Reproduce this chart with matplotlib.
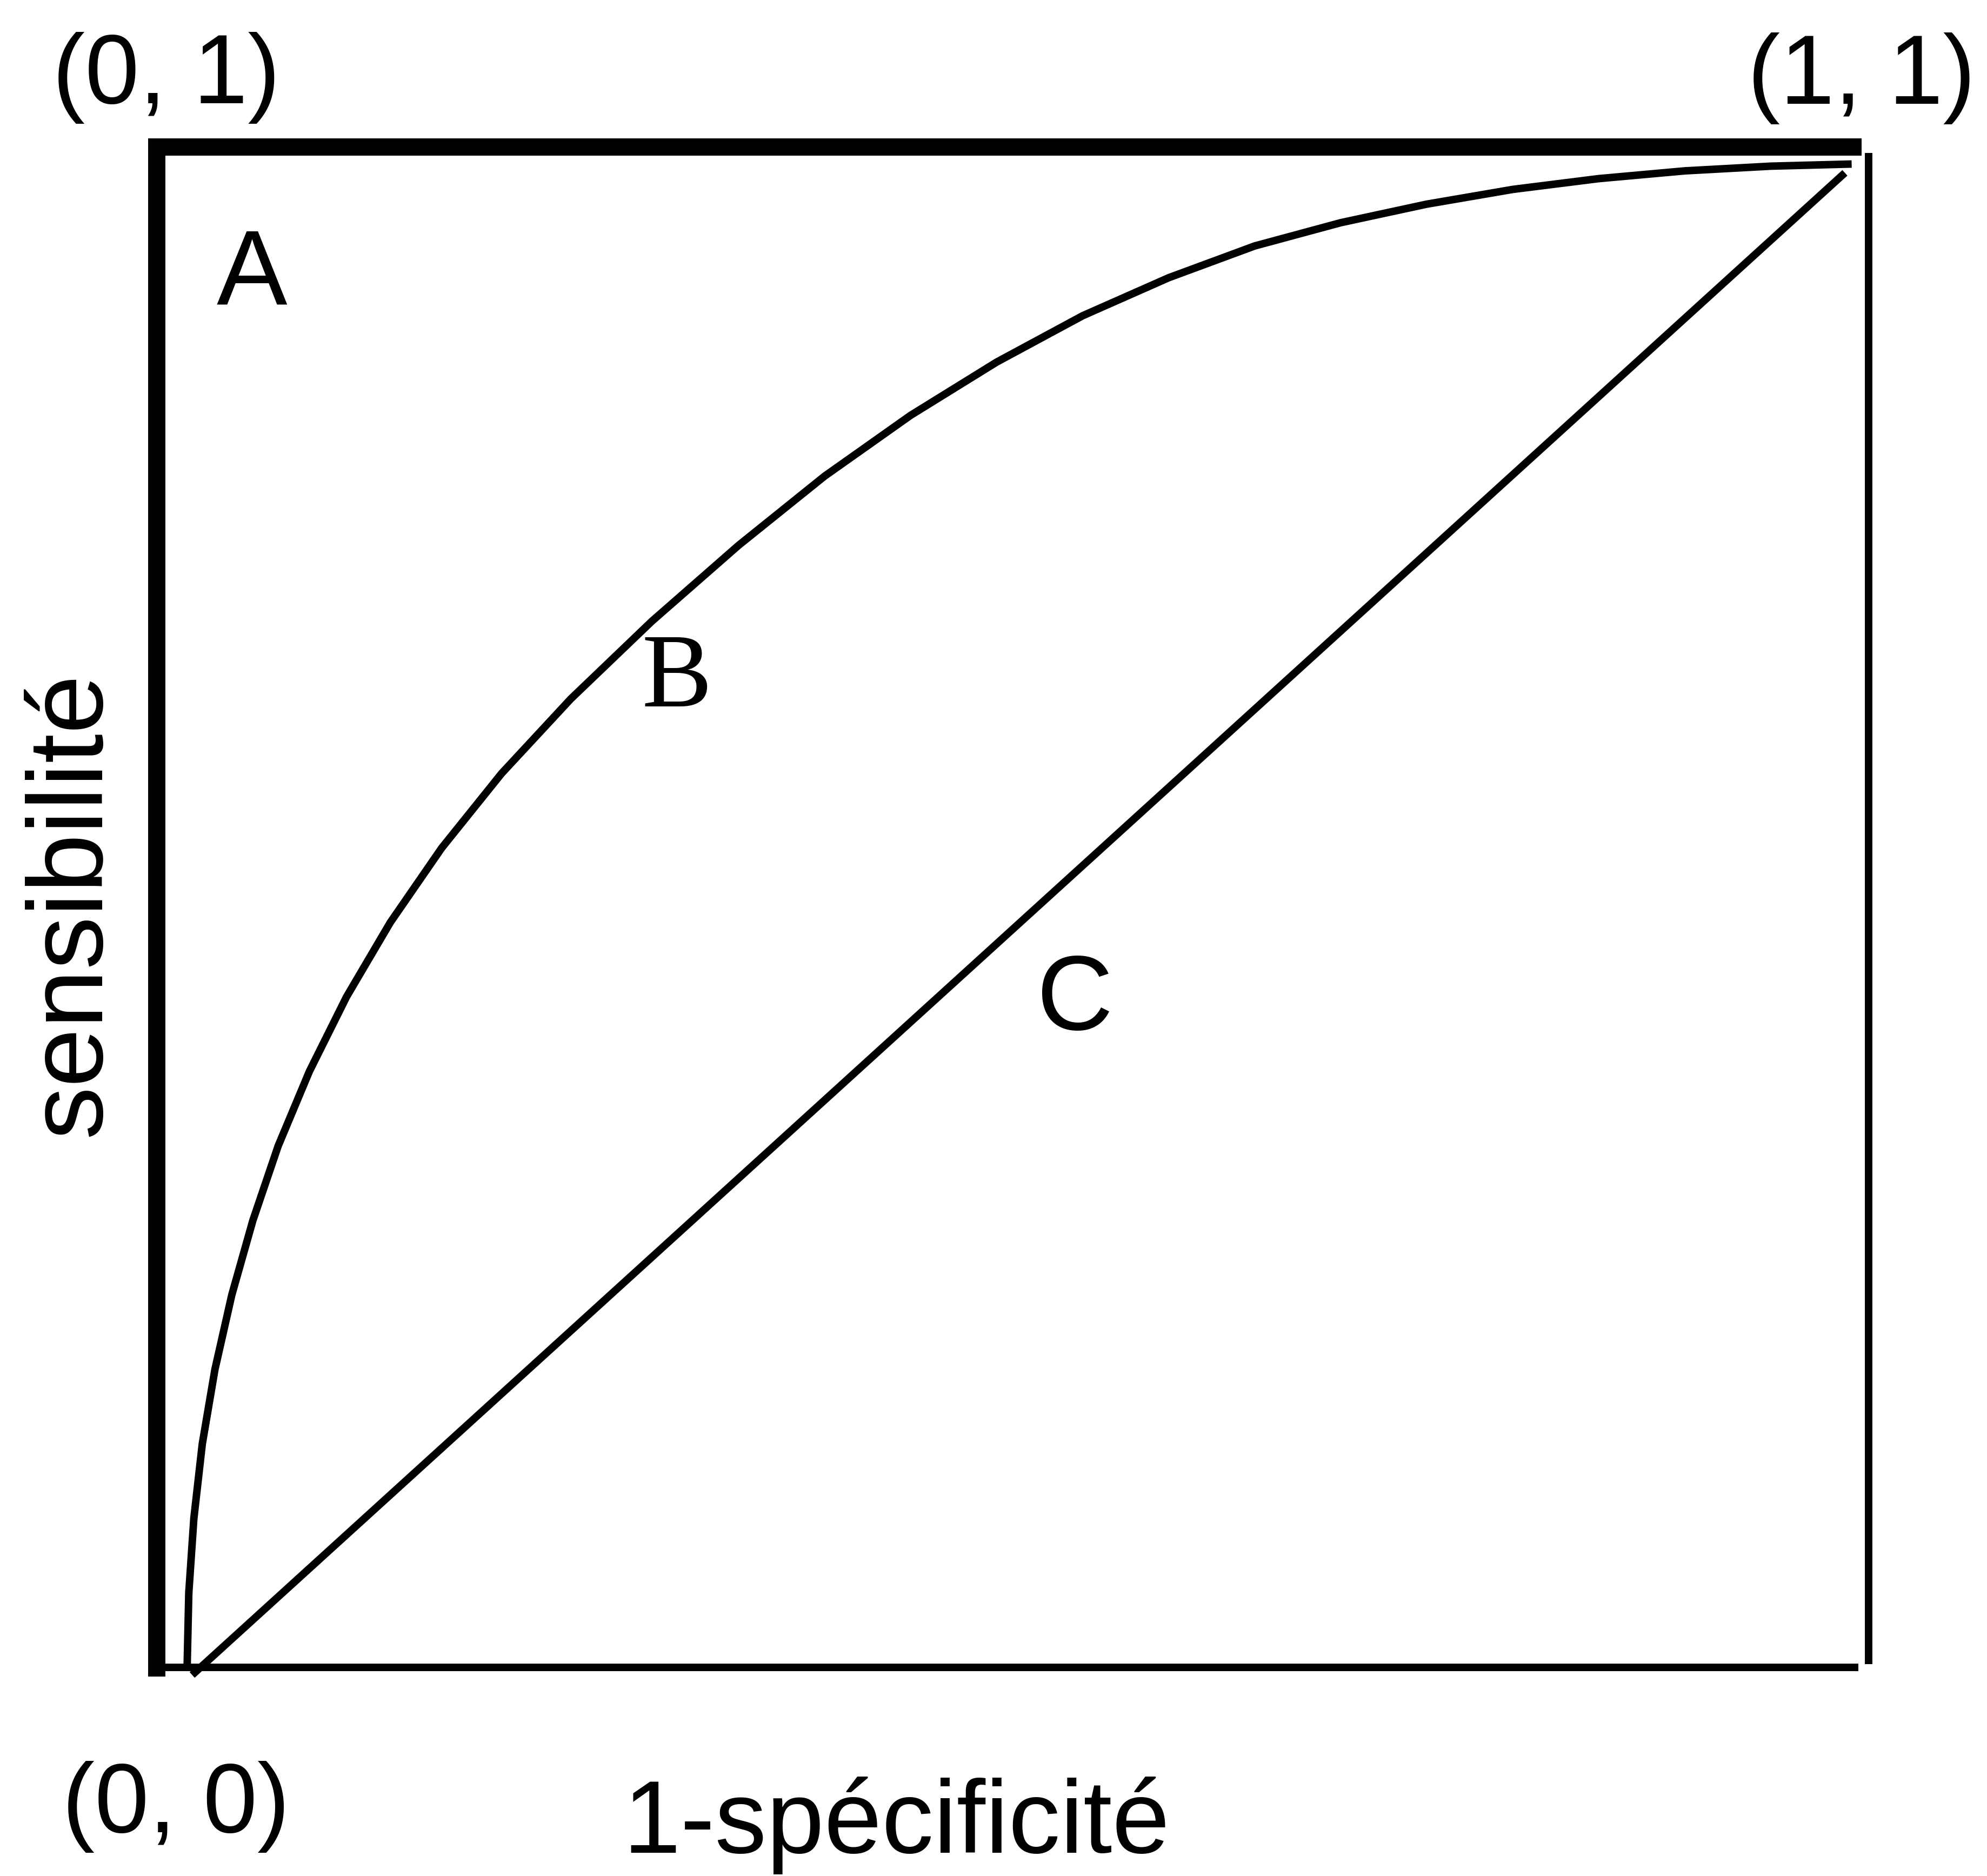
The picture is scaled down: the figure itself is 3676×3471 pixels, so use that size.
import matplotlib
matplotlib.use('Agg')
import matplotlib.pyplot as plt

# ROC diagram : A = test parfait, B = bon test, C = test sans valeur
# curve A (perfect test)
a_x = [0.0, 0.0, 1.011]
a_y = [-0.006, 1.0, 1.0]

# curve B
b_x = [0.018, 0.019, 0.022, 0.027, 0.0345, 0.0445, 0.057, 0.072, 0.0905, 0.1125,
       0.1385, 0.169, 0.2045, 0.2455, 0.2935, 0.345, 0.396, 0.447, 0.498, 0.549,
       0.600, 0.651, 0.702, 0.753, 0.804, 0.855, 0.906, 0.957, 1.005]
b_y = [0.000, 0.049, 0.098, 0.147, 0.196, 0.245, 0.294, 0.343, 0.392, 0.441,
       0.490, 0.539, 0.588, 0.637, 0.688, 0.738, 0.7835, 0.8235, 0.8585, 0.8890,
       0.9140, 0.9349, 0.9502, 0.9624, 0.9721, 0.9792, 0.9843, 0.9874, 0.9888]

# curve C (random test, diagonal)
c_x = [0.021, 1.001]
c_y = [-0.005, 0.983]

# frame, right and bottom sides
right_x = [1.015, 1.015]
right_y = [0.002, 0.996]
bottom_x = [0.0, 1.009]
bottom_y = [0.0, 0.0]

corner_labels = ['(0, 1)', '(1, 1)', '(0, 0)']
curve_labels = ['A', 'B', 'C']
xlabel = '1-spécificité'
ylabel = 'sensibilité'

fig = plt.figure(figsize=(36.76, 34.71), dpi=100)
ax = fig.add_axes([0, 0, 1, 1])
ax.set_xlim(-0.09295, 1.08526)
ax.set_ylim(-0.13722, 1.09669)
ax.axis('off')

ax.plot(a_x, a_y, color='black', lw=23, solid_capstyle='butt', solid_joinstyle='miter')
ax.plot(b_x, b_y, color='black', lw=10, solid_capstyle='butt', solid_joinstyle='round')
ax.plot(c_x, c_y, color='black', lw=10, solid_capstyle='butt')
ax.plot(right_x, right_y, color='black', lw=10, solid_capstyle='butt')
ax.plot(bottom_x, bottom_y, color='black', lw=10, solid_capstyle='butt')

sans = 'Liberation Sans'
ax.text(0.0058, 1.0288, corner_labels[0], ha='center', va='baseline', fontsize=130, family=sans)
ax.text(1.0109, 1.0285, corner_labels[1], ha='center', va='baseline', fontsize=130, family=sans)
ax.text(0.0115, -0.1084, corner_labels[2], ha='center', va='baseline', fontsize=130, family=sans)

ax.text(0.0564, 0.8962, curve_labels[0], ha='center', va='baseline', fontsize=141, family=sans)
ax.text(0.3083, 0.6321, curve_labels[1], ha='center', va='baseline', fontsize=140, family='Liberation Serif')
ax.text(0.5446, 0.4195, curve_labels[2], ha='center', va='baseline', fontsize=141, family=sans)

ax.text(0.4385, -0.1219, xlabel, ha='center', va='baseline', fontsize=138, family=sans)
ax.text(-0.0337, 0.502, ylabel, ha='center', va='baseline', rotation=90,
        rotation_mode='anchor', fontsize=141, family=sans)

fig.savefig('out.png', dpi=100)
